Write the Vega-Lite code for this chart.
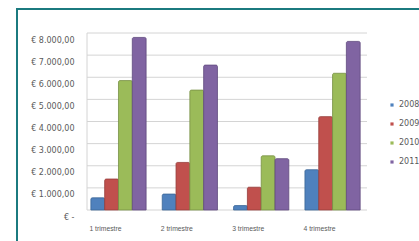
{
  "$schema": "https://vega.github.io/schema/vega-lite/v6.json",
  "width": 412,
  "height": 242,
  "autosize": {"type": "none"},
  "padding": {"left": 17, "top": 9, "right": 0, "bottom": 0},
  "background": "white",
  "config": {
    "view": {"stroke": "#1b7a7f", "strokeWidth": 2},
    "font": "DejaVu Sans"
  },
  "datasets": {
    "sales": [
      {"trimestre": "1 trimestre", "anno": "2008", "value": 550},
      {"trimestre": "1 trimestre", "anno": "2009", "value": 1400},
      {"trimestre": "1 trimestre", "anno": "2010", "value": 5850},
      {"trimestre": "1 trimestre", "anno": "2011", "value": 7800},
      {"trimestre": "2 trimestre", "anno": "2008", "value": 720},
      {"trimestre": "2 trimestre", "anno": "2009", "value": 2150},
      {"trimestre": "2 trimestre", "anno": "2010", "value": 5420},
      {"trimestre": "2 trimestre", "anno": "2011", "value": 6550},
      {"trimestre": "3 trimestre", "anno": "2008", "value": 200},
      {"trimestre": "3 trimestre", "anno": "2009", "value": 1030},
      {"trimestre": "3 trimestre", "anno": "2010", "value": 2450},
      {"trimestre": "3 trimestre", "anno": "2011", "value": 2320},
      {"trimestre": "4 trimestre", "anno": "2008", "value": 1820},
      {"trimestre": "4 trimestre", "anno": "2009", "value": 4220},
      {"trimestre": "4 trimestre", "anno": "2010", "value": 6180},
      {"trimestre": "4 trimestre", "anno": "2011", "value": 7620}
    ],
    "grid": [
      {"v": 0}, {"v": 1000}, {"v": 2000}, {"v": 3000}, {"v": 4000},
      {"v": 5000}, {"v": 6000}, {"v": 7000}, {"v": 8000}
    ]
  },
  "layer": [
    {
      "data": {"name": "grid"},
      "mark": {"type": "rule", "color": "#d4d4d4", "strokeWidth": 1},
      "encoding": {
        "y": {
          "field": "v",
          "type": "quantitative",
          "scale": {"domain": [-1853, 9085], "nice": false, "zero": false},
          "axis": {
            "orient": "left",
            "offset": -70,
            "values": [0, 1000, 2000, 3000, 4000, 5000, 6000, 7000, 8000],
            "domain": false,
            "ticks": false,
            "grid": false,
            "labelPadding": 13,
            "labelOffset": 7,
            "labelFontSize": 8,
            "labelFont": "DejaVu Sans",
            "labelColor": "#5a5a5a",
            "labelOverlap": false,
            "title": null,
            "labelExpr": "datum.value == 0 ? '€ -\u00a0\u00a0\u00a0\u00a0\u00a0' : '€ ' + format(datum.value / 1000, 'd') + '.000,00'"
          }
        },
        "x": {
          "datum": 0,
          "type": "quantitative",
          "scale": {"domain": [-0.25, 1.2214], "nice": false, "zero": false},
          "axis": null
        },
        "x2": {"datum": 1}
      }
    },
    {
      "data": {"values": [{"a": 0}]},
      "mark": {"type": "rule", "color": "#d4d4d4", "strokeWidth": 1},
      "encoding": {
        "x": {
          "datum": 0,
          "type": "quantitative",
          "scale": {"domain": [-0.25, 1.2214], "nice": false, "zero": false},
          "axis": null
        },
        "y": {
          "datum": 0,
          "type": "quantitative",
          "scale": {"domain": [-1853, 9085], "nice": false, "zero": false},
          "axis": null
        },
        "y2": {"datum": 8000}
      }
    },
    {
      "data": {"name": "sales"},
      "mark": {"type": "bar", "cornerRadiusTopLeft": 1.5, "cornerRadiusTopRight": 1.5, "strokeWidth": 0.8},
      "encoding": {
        "x": {
          "field": "trimestre",
          "type": "nominal",
          "sort": null,
          "scale": {"paddingInner": 0.226, "paddingOuter": 1.1786, "align": 0.5177, "round": false},
          "axis": {
            "orient": "bottom",
            "offset": -41,
            "domain": false,
            "ticks": false,
            "labelAngle": 0,
            "labelPadding": 15,
            "labelOffset": -13,
            "labelFontSize": 6.8,
            "labelFont": "Liberation Sans",
            "labelColor": "#5a5a5a",
            "title": null
          }
        },
        "xOffset": {
          "field": "anno",
          "type": "nominal",
          "scale": {"paddingInner": 0, "paddingOuter": 0}
        },
        "y": {
          "field": "value",
          "type": "quantitative",
          "scale": {"domain": [-1853, 9085], "nice": false, "zero": false},
          "axis": null
        },
        "y2": {"datum": 0},
        "color": {
          "field": "anno",
          "type": "nominal",
          "scale": {
            "domain": ["2008", "2009", "2010", "2011"],
            "range": ["#4F81BD", "#C0504D", "#9BBB59", "#8064A2"]
          },
          "legend": {
            "orient": "none",
            "legendX": 371,
            "legendY": 92,
            "title": null,
            "symbolType": "square",
            "symbolSize": 10,
            "symbolStrokeWidth": 0,
            "labelFontSize": 8,
            "labelFont": "DejaVu Sans",
            "labelColor": "#5a5a5a",
            "rowPadding": 11,
            "labelOffset": 3
          }
        },
        "stroke": {
          "field": "anno",
          "type": "nominal",
          "scale": {
            "domain": ["2008", "2009", "2010", "2011"],
            "range": ["#3a6595", "#963c3a", "#779145", "#604a7e"]
          },
          "legend": null
        }
      }
    }
  ],
  "resolve": {"scale": {"x": "independent", "y": "independent"}}
}
